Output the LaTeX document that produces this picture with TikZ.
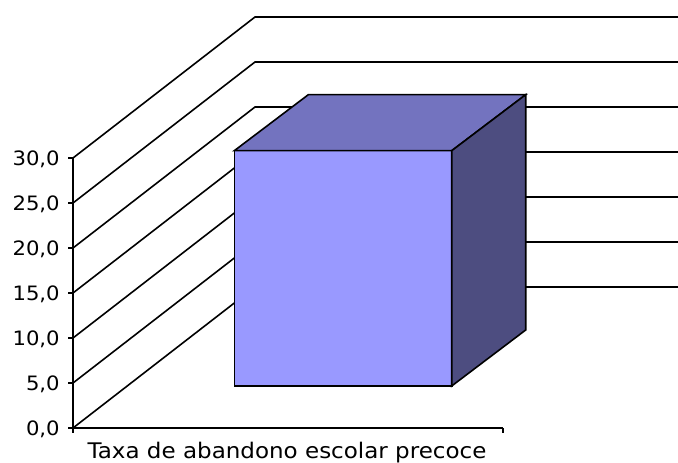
\documentclass[tikz,border=0pt]{standalone}
\usepackage{fontspec}
\setmainfont{DejaVu Sans}
\newfontfamily\chartfont[FakeStretch=1.07]{DejaVu Sans}
\usepackage{tikz}

\definecolor{barfront}{HTML}{9999FF}
\definecolor{bartop}{HTML}{7373BF}
\definecolor{barside}{HTML}{4D4D80}

\begin{document}
\begin{tikzpicture}[x=1pt, y=1pt, line width=1.6pt,
        ylab/.style={anchor=base east, inner sep=0pt, font=\chartfont\fontsize{19.8}{23}\selectfont},
        xlab/.style={anchor=base, inner sep=0pt, font=\chartfont\fontsize{21.5}{25}\selectfont}]
            \useasboundingbox (0, 0) rectangle (678, 463);
            % axes
            \node (0) at (73, 35) {};
            \node (1) at (73, 305) {};
            \node (2) at (503, 35) {};
            \node (3) at (73, 30) {};
            \node (4) at (503, 30) {};
            % tick ends
            \node (10) at (68, 35) {};
            \node (11) at (68, 80) {};
            \node (12) at (68, 125) {};
            \node (13) at (68, 170) {};
            \node (14) at (68, 215) {};
            \node (15) at (68, 260) {};
            \node (16) at (68, 305) {};
            % front wall points
            \node (20) at (73, 35) {};
            \node (21) at (73, 80) {};
            \node (22) at (73, 125) {};
            \node (23) at (73, 170) {};
            \node (24) at (73, 215) {};
            \node (25) at (73, 260) {};
            \node (26) at (73, 305) {};
            % back wall corner points
            \node (30) at (255, 176) {};
            \node (31) at (255, 221) {};
            \node (32) at (255, 266) {};
            \node (33) at (255, 311) {};
            \node (34) at (255, 356) {};
            \node (35) at (255, 401) {};
            \node (36) at (255, 446) {};
            % back wall right ends
            \node (40) at (678, 176) {};
            \node (41) at (678, 221) {};
            \node (42) at (678, 266) {};
            \node (43) at (678, 311) {};
            \node (44) at (678, 356) {};
            \node (45) at (678, 401) {};
            \node (46) at (678, 446) {};
            % bar corners
            \node (50) at (234.3, 77) {};
            \node (51) at (451.7, 77) {};
            \node (52) at (451.7, 312.3) {};
            \node (53) at (234.3, 312.3) {};
            \node (54) at (308.3, 368.3) {};
            \node (55) at (525.7, 368.3) {};
            \node (56) at (525.7, 133) {};
            % labels
            \node[ylab] (60) at (60.5, 27.5) {0,0};
            \node[ylab] (61) at (60.5, 72.5) {5,0};
            \node[ylab] (62) at (60.5, 117.5) {10,0};
            \node[ylab] (63) at (60.5, 162.5) {15,0};
            \node[ylab] (64) at (60.5, 207.5) {20,0};
            \node[ylab] (65) at (60.5, 252.5) {25,0};
            \node[ylab] (66) at (60.5, 297.5) {30,0};
            \node[xlab] (67) at (287, 4.5) {Taxa de abandono escolar precoce};
            % grid
            \draw (20.center) to (30.center) to (40.center);
            \draw (21.center) to (31.center) to (41.center);
            \draw (22.center) to (32.center) to (42.center);
            \draw (23.center) to (33.center) to (43.center);
            \draw (24.center) to (34.center) to (44.center);
            \draw (25.center) to (35.center) to (45.center);
            \draw (26.center) to (36.center) to (46.center);
            \draw (10.center) to (20.center);
            \draw (11.center) to (21.center);
            \draw (12.center) to (22.center);
            \draw (13.center) to (23.center);
            \draw (14.center) to (24.center);
            \draw (15.center) to (25.center);
            \draw (16.center) to (26.center);
            \draw (1.center) to (0.center);
            \draw (0.center) to (2.center);
            \draw (3.center) to (0.center);
            \draw (4.center) to (2.center);
            % bar
            \draw[fill=barfront] (50.center) to (51.center) to (52.center) to (53.center) -- cycle;
            \draw[fill=bartop] (53.center) to (54.center) to (55.center) to (52.center) -- cycle;
            \draw[fill=barside] (51.center) to (56.center) to (55.center) to (52.center) -- cycle;
        \end{tikzpicture}
\end{document}
